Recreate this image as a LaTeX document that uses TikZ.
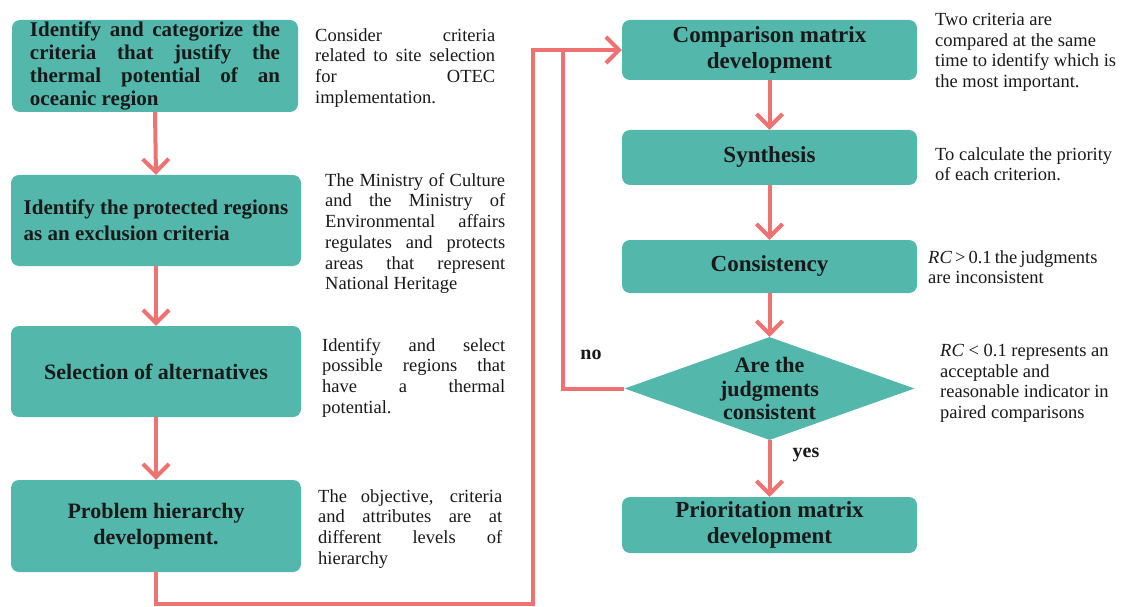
\documentclass[tikz,border=0pt]{standalone}
\usepackage{fontspec}
\setmainfont{Liberation Serif}
\usetikzlibrary{arrows.meta,shapes.geometric}
\definecolor{boxteal}{RGB}{84,183,171}
\definecolor{linkred}{RGB}{238,114,114}
\definecolor{inkc}{RGB}{25,25,25}
% a justified line of a given width
\newcommand\spreadline[2]{\makebox[#1][s]{#2}}
\begin{document}
\begin{tikzpicture}[x=1pt,y=-1pt,
  stepbox/.style={fill=boxteal, rounded corners=8pt, inner sep=0pt, text=inkc,
    font=\fontsize{22}{26}\selectfont\bfseries, align=center},
  rstep/.style={stepbox, minimum width=295pt, font=\fontsize{23}{26}\selectfont\bfseries},
  note/.style={anchor=north west, inner sep=0pt, align=left, text=inkc,
    font=\fontsize{18.5}{20.7}\selectfont},
  flow/.style={draw=linkred, line width=4pt, -{Straight Barb[length=13pt,width=26pt]}},
  link/.style={draw=linkred, line width=4pt},
  tag/.style={inner sep=0pt, text=inkc, font=\fontsize{20}{22}\selectfont\bfseries}]
\useasboundingbox (0,0) rectangle (1136,607);
\fill[white] (0,0) rectangle (1136,607);

% left column
\node[stepbox, minimum width=286pt, minimum height=92pt, align=left,
      font=\fontsize{21}{23}\selectfont\bfseries] (b1) at (155,66)
  {\spreadline{250pt}{Identify and categorize the}\\
   \spreadline{250pt}{criteria that justify the}\\
   \spreadline{250pt}{thermal potential of an}\\
   oceanic region};
\node[stepbox, minimum width=290pt, minimum height=91pt, align=left,
      font=\fontsize{21}{26}\selectfont\bfseries] (b2) at (156,220.5)
  {Identify the protected regions\\as an exclusion criteria};
\node[stepbox, minimum width=290pt, minimum height=91pt] (b3) at (156,371.5)
  {Selection of alternatives};
\node[stepbox, minimum width=290pt, minimum height=92pt] (b4) at (156,526)
  {Problem hierarchy\\development.};

\node[note] (t1) at (315,28)
  {\spreadline{180pt}{Consider criteria}\\
   \spreadline{180pt}{related to site selection}\\
   \spreadline{180pt}{for OTEC}\\
   implementation.};
\node[note] (t2) at (325,173)
  {\spreadline{180pt}{The Ministry of Culture}\\
   \spreadline{180pt}{and the Ministry of}\\
   \spreadline{180pt}{Environmental affairs}\\
   \spreadline{180pt}{regulates and protects}\\
   \spreadline{180pt}{areas that represent}\\
   National Heritage};
\node[note] (t3) at (322,338)
  {\spreadline{183pt}{Identify and select}\\
   \spreadline{183pt}{possible regions that}\\
   \spreadline{183pt}{have a thermal}\\
   potential.};
\node[note] (t4) at (318,489)
  {\spreadline{184pt}{The objective, criteria}\\
   \spreadline{184pt}{and attributes are at}\\
   \spreadline{184pt}{different levels of}\\
   hierarchy};

% right column
\node[rstep, minimum height=60pt] (cmp) at (769.5,50) {Comparison matrix\\development};
\node[rstep, minimum height=55pt] (syn) at (769.5,157.5) {Synthesis};
\node[rstep, minimum height=53pt] (con) at (769.5,266.5) {Consistency};
\node[diamond, fill=boxteal, minimum width=290pt, minimum height=103pt, inner sep=0pt] (dia) at (769.5,388.5) {};
\node[stepbox, fill=none, font=\fontsize{22}{23.5}\selectfont\bfseries] (diatext) at (dia.center)
  {Are the\\judgments\\consistent};
\node[rstep, minimum height=56pt] (pri) at (769.5,525) {Prioritation matrix\\development};

\node[note] (t5) at (935,13)
  {Two criteria are\\compared at the same\\time to identify which is\\the most important.};
\node[note] (t6) at (935,147)
  {To calculate the priority\\of each criterion.};
\node[note] (t7) at (928,250)
  {\spreadline{160pt}{\textit{RC} > 0.1 the judgments}\\are inconsistent};
\node[note] (t8) at (940,344)
  {\textit{RC} < 0.1 represents an\\acceptable and\\reasonable indicator in\\paired comparisons};

\node[tag] (nolbl) at (591,355) {no};
\node[tag] (yeslbl) at (806,455) {yes};

% connectors
\coordinate (lb) at (533,604);
\coordinate (nj) at ([xshift=-59pt]cmp.west);
\draw[flow] (b1.south) -- (b2.north);
\draw[flow] (b2.south) -- (b3.north);
\draw[flow] (b3.south) -- (b4.north);
\draw[flow] (b4.south) |- (lb) |- (cmp.west);
\draw[link] (dia.west) -| (nj);
\draw[flow] (cmp.south) -- (syn.north);
\draw[flow] (syn.south) -- (con.north);
\draw[flow] (con.south) -- (dia.north);
\draw[flow] (dia.south) -- (pri.north);
\end{tikzpicture}
\end{document}
